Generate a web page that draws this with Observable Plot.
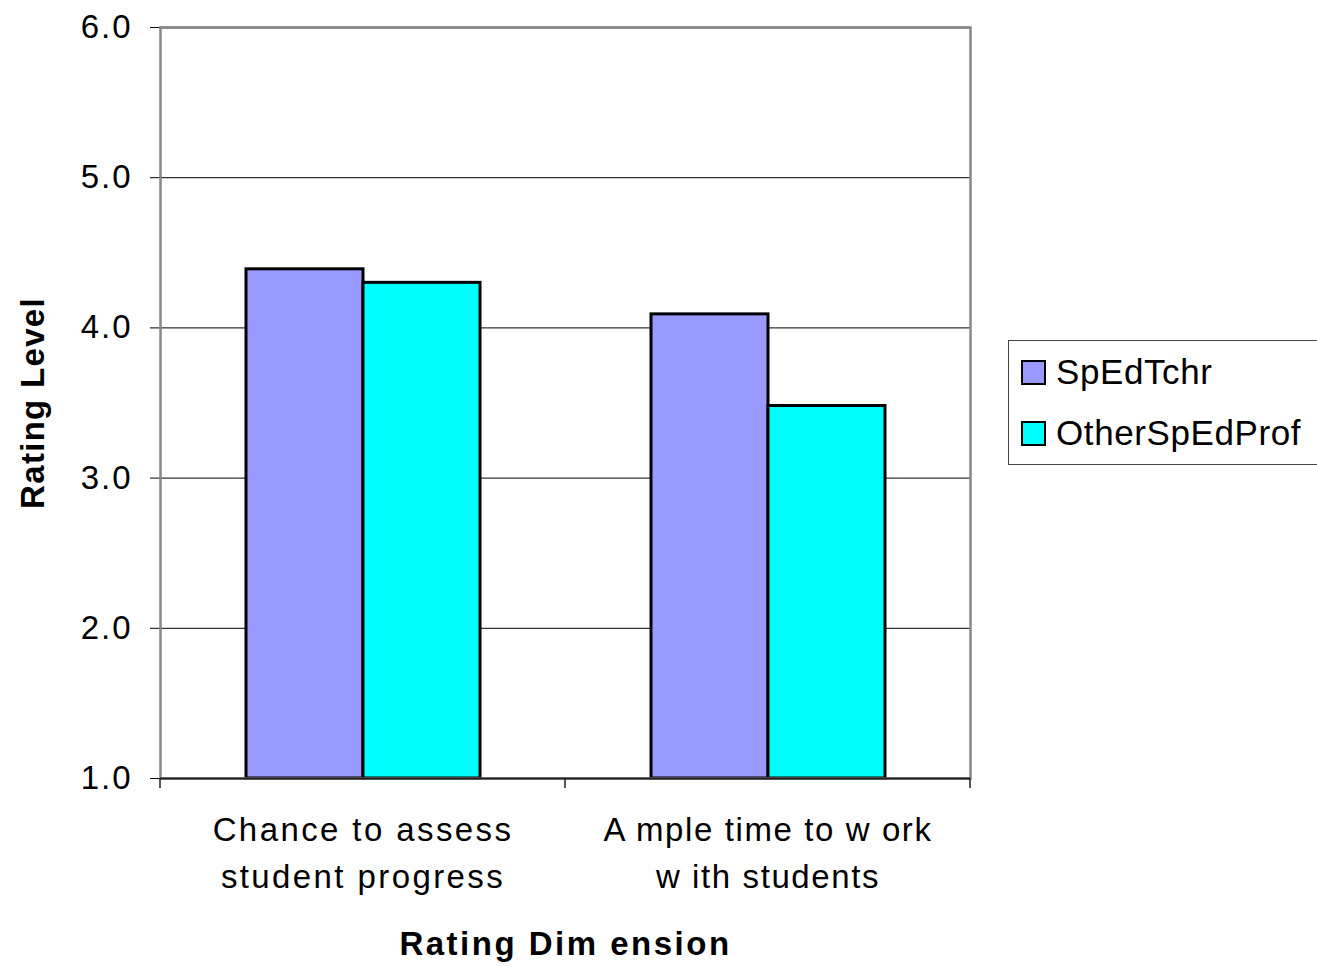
<!DOCTYPE html>
<html>
<head>
<meta charset="utf-8">
<script src="https://cdn.jsdelivr.net/npm/d3@7"></script>
<script src="https://cdn.jsdelivr.net/npm/@observablehq/plot@0.6"></script>
<style>
  body { margin: 0; background: #fff; font-family: "Liberation Sans", Arial, sans-serif; }
  #wrap { position: relative; width: 1317px; height: 966px; overflow: hidden; }
  #legend { position: absolute; left: 1008px; top: 340px; width: 340px; height: 125px;
            border: 1px solid #444; background: #fff; box-sizing: border-box; }
  .item { position: absolute; left: 12px; display: flex; align-items: center; font-size: 35px;
          letter-spacing: 0.6px; color: #000; }
  .sw { width: 21px; height: 21px; border: 2.5px solid #000; margin-right: 10px; }
</style>
</head>
<body>
<div id="wrap"></div>
<script>
const categories = ["Chance to assess student progress", "Ample time to work with students"];
const categoryLabels = ["Chance to assess\nstudent progress", "A mple time to w ork\nw ith students"];
const series = ["SpEdTchr", "OtherSpEdProf"];
const colors = ["#9999FF", "#00FFFF"];
const spEdTchr = [4.39, 4.09];
const otherSpEdProf = [4.30, 3.48];
const yTicks = [1, 2, 3, 4, 5, 6];

const data = [];
categories.forEach((c, i) => {
  data.push({cat: c, series: series[0], value: spEdTchr[i]});
  data.push({cat: c, series: series[1], value: otherSpEdProf[i]});
});
const labelData = categories.map((c, i) => ({cat: c, label: categoryLabels[i]}));

const plot = Plot.plot({
  width: 1317,
  height: 966,
  marginLeft: 160,
  marginRight: 347,
  marginTop: 27,
  marginBottom: 188,
  style: {fontFamily: "'Liberation Sans', Arial, sans-serif", color: "#000", background: "#fff"},
  fx: {domain: categories, padding: 0, axis: null},
  x: {domain: series, paddingInner: 0, paddingOuter: 0.72, axis: null},
  y: {domain: [1, 6], axis: null},
  color: {domain: series, range: colors},
  marks: [
    Plot.gridY(yTicks.filter(d => d > 1 && d < 6), {stroke: "#000", strokeOpacity: 1, strokeWidth: 1}),
    Plot.axisY({ticks: yTicks, tickFormat: d3.format(".1f"), tickSize: 10, tickPadding: 18,
                fontSize: 33, label: null, stroke: "#000"}),
    Plot.barY(data, {fx: "cat", x: "series", y1: 1, y2: "value", fill: "series",
                     stroke: "#000", strokeWidth: 3}),
    Plot.ruleY([6], {stroke: "#888", strokeWidth: 2.5}),
    Plot.frame({stroke: "#888", strokeWidth: 2.5, facet: "super"}),
    Plot.ruleY([1], {stroke: "#222", strokeWidth: 2}),
    Plot.text(labelData, {fx: "cat", text: "label", frameAnchor: "bottom", lineAnchor: "top",
                          dy: 29, fontSize: 33, lineHeight: 1.42, fill: "#000"}),
    Plot.text(["Rating Level"], {text: d => d, frameAnchor: "left", textAnchor: "middle", rotate: -90, dx: -127,
                                 fontSize: 33, fontWeight: "bold", fill: "#000", facet: "super"}),
    Plot.text(["Rating Dim ension"], {text: d => d, frameAnchor: "bottom", dy: 176,
                                     fontSize: 33, fontWeight: "bold", fill: "#000", facet: "super"})
  ]
});

// letter spacing to match the stretched text of the reference
d3.select(plot).selectAll("text").each(function() {
  const s = d3.select(this);
  const t = this.textContent;
  if (/^\d\.0$/.test(t)) s.style("letter-spacing", "2px");
  else if (t === "Rating Level") s.style("letter-spacing", "1.3px");
  else if (t === "Rating Dim ension") s.style("letter-spacing", "2.5px");
  else if (t.startsWith("A mple")) s.style("letter-spacing", "1.6px");
  else s.style("letter-spacing", "2.4px");
});

// Category boundary ticks below the x axis, positioned from the fx scale
const fx = plot.scale("fx");
const yb = plot.scale("y").apply(1);
const bounds = fx.domain.map(d => fx.apply(d));
bounds.push(fx.apply(fx.domain[fx.domain.length - 1]) + fx.bandwidth);
d3.select(plot).append("g").selectAll("line").data(bounds).join("line")
  .attr("x1", d => d).attr("x2", d => d).attr("y1", yb).attr("y2", yb + 10)
  .attr("stroke", "#222").attr("stroke-width", 1.5);

const wrap = document.getElementById("wrap");
wrap.appendChild(plot);

const legend = document.createElement("div");
legend.id = "legend";
series.forEach((s, i) => {
  const item = document.createElement("div");
  item.className = "item";
  item.style.top = (i === 0 ? 11 : 72) + "px";
  const sw = document.createElement("div");
  sw.className = "sw";
  sw.style.background = colors[i];
  const t = document.createElement("span");
  t.textContent = s;
  item.appendChild(sw);
  item.appendChild(t);
  legend.appendChild(item);
});
wrap.appendChild(legend);
</script>
</body>
</html>
